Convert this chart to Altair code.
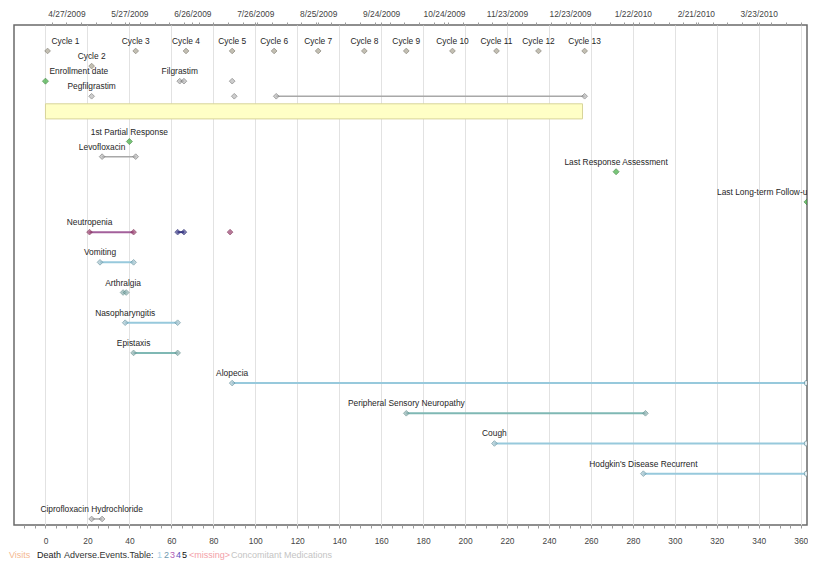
import json
import altair as alt
import pandas as pd

# ---------------- data ----------------
top_label_days = [10, 40, 70, 100, 130, 160, 190, 220, 250, 280, 310, 340]
top_labels = ["4/27/2009", "5/27/2009", "6/26/2009", "7/26/2009", "8/25/2009", "9/24/2009",
              "10/24/2009", "11/23/2009", "12/23/2009", "1/22/2010", "2/21/2010", "3/23/2010"]
bottom_tick_days = list(range(-10, 361, 5))
top_tick_days = sorted(set(list(range(3, 361, 7)) + top_label_days))

cycle_names = ["Cycle %d" % i for i in range(1, 14)]
cycle_days = [1, 22, 43, 67, 89, 109, 130, 152, 172, 194, 215, 235, 257]
cycle_lanes = [0, 1, 0, 0, 0, 0, 0, 0, 0, 0, 0, 0, 0]

milestone_names = ["Enrollment date", "1st Partial Response", "Last Response Assessment",
                   "Last Long-term Follow-up"]
milestone_days = [0, 40, 272, 363]
milestone_lanes = [2, 6, 8, 10]

treatment_start = [0]
treatment_end = [256]
treatment_lane = [4]

med_names = ["Filgrastim", "", "Pegfilgrastim", "", "", "Levofloxacin", "Ciprofloxacin Hydrochloride"]
med_lanes = [2, 2, 3, 3, 3, 7, 31]
med_start = [64, 89, 22, 90, 110, 27, 22]
med_end = [66, 89, 22, 90, 257, 43, 27]

ae_names = ["Neutropenia", "", "", "Vomiting", "Arthralgia", "Nasopharyngitis", "Epistaxis",
            "Alopecia", "Peripheral Sensory Neuropathy", "Cough", "Hodgkin's Disease Recurrent"]
ae_lanes = [12, 12, 12, 14, 16, 18, 20, 22, 24, 26, 28]
ae_start = [21, 63, 88, 26, 37, 38, 42, 89, 172, 214, 285]
ae_end = [42, 66, 88, 42, 38.5, 63, 63, 363, 286, 363, 363]
ae_grade = ["3", "4", "3", "1", "2", "1", "2", "1", "2", "1", "1"]
ae_ongoing = [False, False, False, False, False, False, False, True, False, True, True]

legend_texts = ["Visits", "Death", "Adverse.Events.Table:", "1", "2", "3", "4", "5",
                "<missing>", "Concomitant Medications"]
legend_colors = ["#f4b890", "#222222", "#333333", "#a9cfe6", "#6f98ae", "#b45cb4", "#5a4fc0",
                 "#111111", "#f3a0a8", "#c4c4c4"]
legend_page_x = [9, 37, 64, 157, 164, 170, 176, 182, 189, 231]

# ---------------- tables ----------------
cyc = pd.DataFrame({"name": cycle_names, "day": cycle_days, "lane": cycle_lanes})
ms = pd.DataFrame({"name": milestone_names, "day": milestone_days, "lane": milestone_lanes})
treat = pd.DataFrame({"start": treatment_start, "end": treatment_end, "lane": treatment_lane})
med = pd.DataFrame({"name": med_names, "lane": med_lanes, "start": med_start, "end": med_end})
ae = pd.DataFrame({"name": ae_names, "lane": ae_lanes, "start": ae_start, "end": ae_end,
                   "grade": ae_grade, "ongoing": ae_ongoing})

med_pts = pd.concat([
    med[["lane", "start"]].rename(columns={"start": "day"}),
    med[med.end != med.start][["lane", "end"]].rename(columns={"end": "day"}),
])
ae_pts = pd.concat([
    ae[["lane", "start", "grade"]].rename(columns={"start": "day"}),
    ae[(ae.end != ae.start) & (~ae.ongoing)][["lane", "end", "grade"]].rename(columns={"end": "day"}),
])
ae_open = ae[ae.ongoing][["lane", "end", "grade"]].rename(columns={"end": "day"})

labels = pd.concat([
    cyc[["name", "day", "lane"]],
    ms[["name", "day", "lane"]],
    med[med.name != ""][["name", "start", "lane"]].rename(columns={"start": "day"}),
    ae[ae.name != ""][["name", "start", "lane"]].rename(columns={"start": "day"}),
])

# ---------------- styling ----------------
FONT = "Liberation Sans, Arial, sans-serif"
LBL = 8.4
TXT = "#262626"
grades = ["1", "2", "3", "4", "5"]
line_cols = ["#97c9dc", "#7fb8b4", "#a3609b", "#4a4a96", "#222222"]
pt_fill = ["#a4c4cf", "#90b2b2", "#9a3f6e", "#3c3c88", "#222222"]
pt_stroke = ["#5f8c98", "#5f8a88", "#7a2a50", "#2c2c70", "#000000"]

xs = alt.Scale(domain=[-15, 363], nice=False, zero=False)
ys = alt.Scale(domain=[-1.72, 31.4], reverse=True, nice=False, zero=False)

cond20 = "datum.value % 20 === 0 && datum.value >= 0"
bottom_axis = alt.Axis(
    orient="bottom", values=bottom_tick_days, title=None,
    labelExpr="%s ? datum.label : ''" % cond20,
    grid=True, gridColor="#e2e2e2", gridWidth=1,
    gridOpacity={"condition": {"test": cond20, "value": 1}, "value": 0},
    domain=False, tickSize=3, tickColor="#9a9a9a", labelFont=FONT, labelFontSize=LBL,
    labelColor="#444444", labelPadding=8, labelFlush=False, labelOverlap=False,
)
arr_days = json.dumps(top_label_days)
arr_lbls = json.dumps(top_labels)
top_axis = alt.Axis(
    orient="top", values=top_tick_days, title=None,
    labelExpr="indexof(%s, datum.value) >= 0 ? %s[indexof(%s, datum.value)] : ''" % (arr_days, arr_lbls, arr_days),
    grid=False, domain=False, tickSize=3, tickColor="#9a9a9a", labelFont=FONT, labelFontSize=LBL,
    labelColor="#444444", labelPadding=4, labelFlush=False, labelOverlap=False,
)

Y = alt.Y("lane:Q", scale=ys, axis=None)

bar = alt.Chart(treat).transform_calculate(
    lo="datum.lane - 0.5", hi="datum.lane + 0.5"
).mark_rect(fill="#ffffc6", stroke="#d8d49a", strokeWidth=1).encode(
    x=alt.X("start:Q", scale=xs, axis=bottom_axis), x2="end:Q",
    y=alt.Y("lo:Q", scale=ys, axis=None), y2="hi:Q",
)

med_lines = alt.Chart(med).mark_rule(color="#a8a8a8", strokeWidth=1.5).encode(
    x=alt.X("start:Q", scale=xs, axis=None), x2="end:Q", y=Y)

ae_lines = alt.Chart(ae).mark_rule(strokeWidth=2, clip=True).encode(
    x=alt.X("start:Q", scale=xs, axis=None), x2="end:Q", y=Y,
    color=alt.Color("grade:N", scale=alt.Scale(domain=grades, range=line_cols), legend=None))

med_points = alt.Chart(med_pts).mark_point(shape="diamond", filled=True, size=32, fill="#b8b8b8",
                                           stroke="#707070", strokeWidth=0.9).encode(
    x=alt.X("day:Q", scale=xs, axis=None), y=Y)

ae_points = alt.Chart(ae_pts).mark_point(shape="diamond", filled=True, size=32, strokeWidth=0.9).encode(
    x=alt.X("day:Q", scale=xs, axis=None), y=Y,
    fill=alt.Fill("grade:N", scale=alt.Scale(domain=grades, range=pt_fill), legend=None),
    stroke=alt.Stroke("grade:N", scale=alt.Scale(domain=grades, range=pt_stroke), legend=None))

ae_open_pts = alt.Chart(ae_open).mark_point(shape="circle", size=30, fill="white", filled=False,
                                            strokeWidth=1, clip=True).encode(
    x=alt.X("day:Q", scale=xs, axis=None), y=Y,
    stroke=alt.Stroke("grade:N", scale=alt.Scale(domain=grades, range=pt_stroke), legend=None))

cyc_points = alt.Chart(cyc).mark_point(shape="diamond", filled=True, size=32, fill="#aaa492",
                                       stroke="#6f6b5e", strokeWidth=0.9).encode(
    x=alt.X("day:Q", scale=xs, axis=top_axis), y=Y)

ms_points = alt.Chart(ms).mark_point(shape="diamond", filled=True, size=36, fill="#3fae3f",
                                     stroke="#2a7a2a", strokeWidth=0.9, clip=True).encode(
    x=alt.X("day:Q", scale=xs, axis=None), y=Y)

txt_base = alt.Chart(labels)
txt_center = txt_base.transform_filter("datum.day >= 5 && datum.day <= 350").mark_text(
    font=FONT, fontSize=LBL, color=TXT, baseline="middle", align="center", dy=-10).encode(
    x=alt.X("day:Q", scale=xs, axis=None), y=Y, text="name:N")
txt_left = txt_base.transform_filter("datum.day < 5").mark_text(
    font=FONT, fontSize=LBL, color=TXT, baseline="middle", align="left", dx=4, dy=-10).encode(
    x=alt.X("day:Q", scale=xs, axis=None), y=Y, text="name:N")
txt_right = txt_base.transform_filter("datum.day > 350").mark_text(
    font=FONT, fontSize=LBL, color=TXT, baseline="middle", align="right", dx=5, dy=-10,
    clip=True).encode(
    x=alt.X("day:Q", scale=xs, axis=None), y=Y, text="name:N")

legend_layers = []
for t, c, px in zip(legend_texts, legend_colors, legend_page_x):
    legend_layers.append(
        alt.Chart(pd.DataFrame({"t": [t]})).mark_text(
            font=FONT, fontSize=9, color=c, align="left", baseline="middle").encode(
            x=alt.value(px - 14), y=alt.value(530), text="t:N"))

chart = alt.layer(
    bar, med_lines, ae_lines, med_points, ae_points, ae_open_pts, cyc_points, ms_points,
    txt_center, txt_left, txt_right, *legend_layers
).resolve_axis(x="independent").properties(
    width=793, height=500,
    autosize=alt.AutoSizeParams(type="none"),
    padding={"left": 6, "top": 17, "right": 1, "bottom": 40},
).configure_view(stroke="#6a6a6a", strokeWidth=1.5)

chart.save("out.html", embed_options={"renderer": "svg", "actions": False})
